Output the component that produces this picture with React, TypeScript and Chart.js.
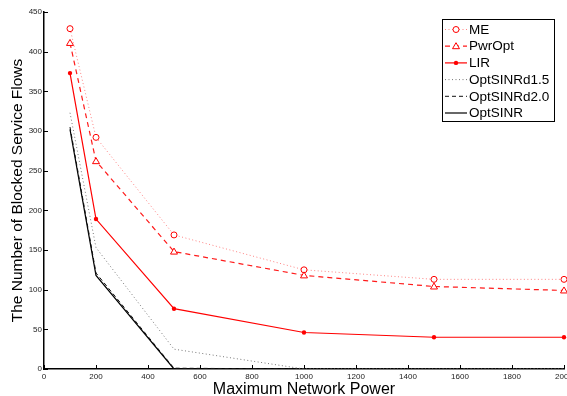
import React, { useEffect, useRef } from "react";
import { Chart, registerables } from "chart.js";

Chart.register(...registerables);

const powers = [100, 200, 500, 1000, 1500, 2000];
const meValues = [429, 292, 169, 125, 113, 113];
const pwrOptValues = [411, 262, 148, 118, 104, 99];
const lirValues = [373, 189, 76, 46, 40, 40];
const optSinrD15Values = [323, 153, 25, 0, 0, 0];
const optSinrD20Values = [305, 121, 1, 0, 0, 0];
const optSinrValues = [302, 118, 0, 0, 0, 0];

const seriesNames = ["ME", "PwrOpt", "LIR", "OptSINRd1.5", "OptSINRd2.0", "OptSINR"];
const xTickValues = [0, 200, 400, 600, 800, 1000, 1200, 1400, 1600, 1800, 2000];
const yTickValues = [0, 50, 100, 150, 200, 250, 300, 350, 400, 450];

const FONT = "'Liberation Sans', Arial, Helvetica, sans-serif";

type Style = {
  color: string;
  markerColor: string;
  dash: number[];
  marker: "circle" | "triangle" | "dot" | "none";
  width: number;
};

const styles: Style[] = [
  { color: "rgba(255,90,90,0.75)", markerColor: "#ff0000", dash: [1, 2.5], marker: "circle", width: 1 },
  { color: "#ff1a1a", markerColor: "#ff0000", dash: [5, 4], marker: "triangle", width: 1.2 },
  { color: "#ff0000", markerColor: "#ff0000", dash: [], marker: "dot", width: 1.2 },
  { color: "#777777", markerColor: "#777777", dash: [1, 2.5], marker: "none", width: 1 },
  { color: "#111111", markerColor: "#111111", dash: [4, 3], marker: "none", width: 1 },
  { color: "#000000", markerColor: "#000000", dash: [], marker: "none", width: 1.2 },
];

const allValues = [meValues, pwrOptValues, lirValues, optSinrD15Values, optSinrD20Values, optSinrValues];

function drawMarker(ctx: CanvasRenderingContext2D, kind: Style["marker"], x: number, y: number, color: string) {
  ctx.save();
  ctx.setLineDash([]);
  ctx.strokeStyle = color;
  ctx.fillStyle = color;
  ctx.lineWidth = 1;
  if (kind === "circle") {
    ctx.beginPath();
    ctx.arc(x, y, 3, 0, Math.PI * 2);
    ctx.fillStyle = "#ffffff";
    ctx.fill();
    ctx.stroke();
  } else if (kind === "triangle") {
    ctx.beginPath();
    ctx.moveTo(x, y - 3.5);
    ctx.lineTo(x + 3.5, y + 2.5);
    ctx.lineTo(x - 3.5, y + 2.5);
    ctx.closePath();
    ctx.fillStyle = "#ffffff";
    ctx.fill();
    ctx.stroke();
  } else if (kind === "dot") {
    ctx.beginPath();
    ctx.arc(x, y, 2.2, 0, Math.PI * 2);
    ctx.fill();
  }
  ctx.restore();
}

const decorPlugin = {
  id: "decor",
  afterDatasetsDraw(chart: any) {
    const ctx: CanvasRenderingContext2D = chart.ctx;
    const xs = chart.scales.x;
    const ys = chart.scales.y;
    const { left, bottom } = chart.chartArea;
    allValues.forEach((vals, i) => {
      const st = styles[i];
      if (st.marker === "none") return;
      vals.forEach((v, j) => {
        drawMarker(ctx, st.marker, xs.getPixelForValue(powers[j]), ys.getPixelForValue(v), st.markerColor);
      });
    });
    ctx.save();
    ctx.strokeStyle = "#000";
    ctx.lineWidth = 1;
    ctx.beginPath();
    xTickValues.forEach((t) => {
      const px = Math.round(xs.getPixelForValue(t)) + 0.5;
      ctx.moveTo(px, bottom);
      ctx.lineTo(px, bottom - 4);
    });
    yTickValues.forEach((t) => {
      const py = Math.round(ys.getPixelForValue(t)) + 0.5;
      ctx.moveTo(left, py);
      ctx.lineTo(left + 4, py);
    });
    ctx.stroke();
    ctx.restore();
    const bx = 442.5, by = 19.5, bw = 112, bh = 102;
    ctx.save();
    ctx.fillStyle = "#fff";
    ctx.fillRect(bx, by, bw, bh);
    ctx.strokeStyle = "#000";
    ctx.lineWidth = 1;
    ctx.strokeRect(bx, by, bw, bh);
    ctx.font = `13.5px ${FONT}`;
    ctx.textBaseline = "middle";
    ctx.textAlign = "left";
    seriesNames.forEach((name, i) => {
      const st = styles[i];
      const ry = 29.5 + i * 16.7;
      ctx.save();
      ctx.strokeStyle = st.color;
      ctx.lineWidth = st.width;
      ctx.setLineDash(st.dash);
      ctx.beginPath();
      ctx.moveTo(445, ry);
      ctx.lineTo(467, ry);
      ctx.stroke();
      ctx.restore();
      if (st.marker !== "none") drawMarker(ctx, st.marker, 456, ry, st.markerColor);
      ctx.fillStyle = "#000";
      ctx.fillText(name, 469, ry + 0.5);
    });
    ctx.restore();
  },
};

export default function App() {
  const ref = useRef<HTMLCanvasElement | null>(null);
  useEffect(() => {
    if (!ref.current) return;
    const chart = new Chart(ref.current, {
      type: "line",
      data: {
        datasets: allValues.map((vals, i) => ({
          label: seriesNames[i],
          data: vals.map((v, j) => ({ x: powers[j], y: v })),
          borderColor: styles[i].color,
          borderWidth: styles[i].width,
          borderDash: styles[i].dash,
          pointRadius: 0,
          fill: false,
          tension: 0,
        })),
      },
      options: {
        responsive: false,
        animation: false,
        layout: { padding: { left: 0, top: 12, right: 16, bottom: 0 } },
        plugins: { legend: { display: false }, tooltip: { enabled: false } },
        scales: {
          x: {
            type: "linear",
            min: 0,
            max: 2000,
            afterBuildTicks: (s: any) => {
              s.ticks = xTickValues.map((v) => ({ value: v }));
            },
            afterFit: (s: any) => {
              s.height = 27;
            },
            grid: { display: false, drawTicks: false },
            border: { display: true, color: "#000", width: 1.5 },
            ticks: {
              color: "#222",
              font: { family: FONT, size: 8 },
              padding: 3,
              maxRotation: 0,
              callback: (v: any) => String(v),
            },
            title: {
              display: true,
              text: "Maximum Network Power",
              color: "#000",
              font: { family: FONT, size: 16, lineHeight: 1 },
              padding: { top: 0, bottom: -2 },
            },
          },
          y: {
            type: "linear",
            min: 0,
            max: 450,
            afterBuildTicks: (s: any) => {
              s.ticks = yTickValues.map((v) => ({ value: v }));
            },
            afterFit: (s: any) => {
              s.width = 44;
            },
            grid: { display: false, drawTicks: false },
            border: { display: true, color: "#000", width: 1.5 },
            ticks: {
              color: "#222",
              font: { family: FONT, size: 8 },
              padding: 2,
              callback: (v: any) => String(v),
            },
            title: {
              display: true,
              text: "The Number of Blocked Service Flows",
              color: "#000",
              font: { family: FONT, size: 15.5, lineHeight: 1 },
              padding: { top: 10, bottom: 0 },
            },
          },
        },
      },
      plugins: [decorPlugin],
    } as any);
    return () => chart.destroy();
  }, []);
  return (
    <div style={{ position: "fixed", left: 0, top: 0, width: 567, height: 396, overflow: "hidden", background: "#fff" }}>
      <canvas ref={ref} width={580} height={396} style={{ width: 580, height: 396, display: "block" }} />
    </div>
  );
}
